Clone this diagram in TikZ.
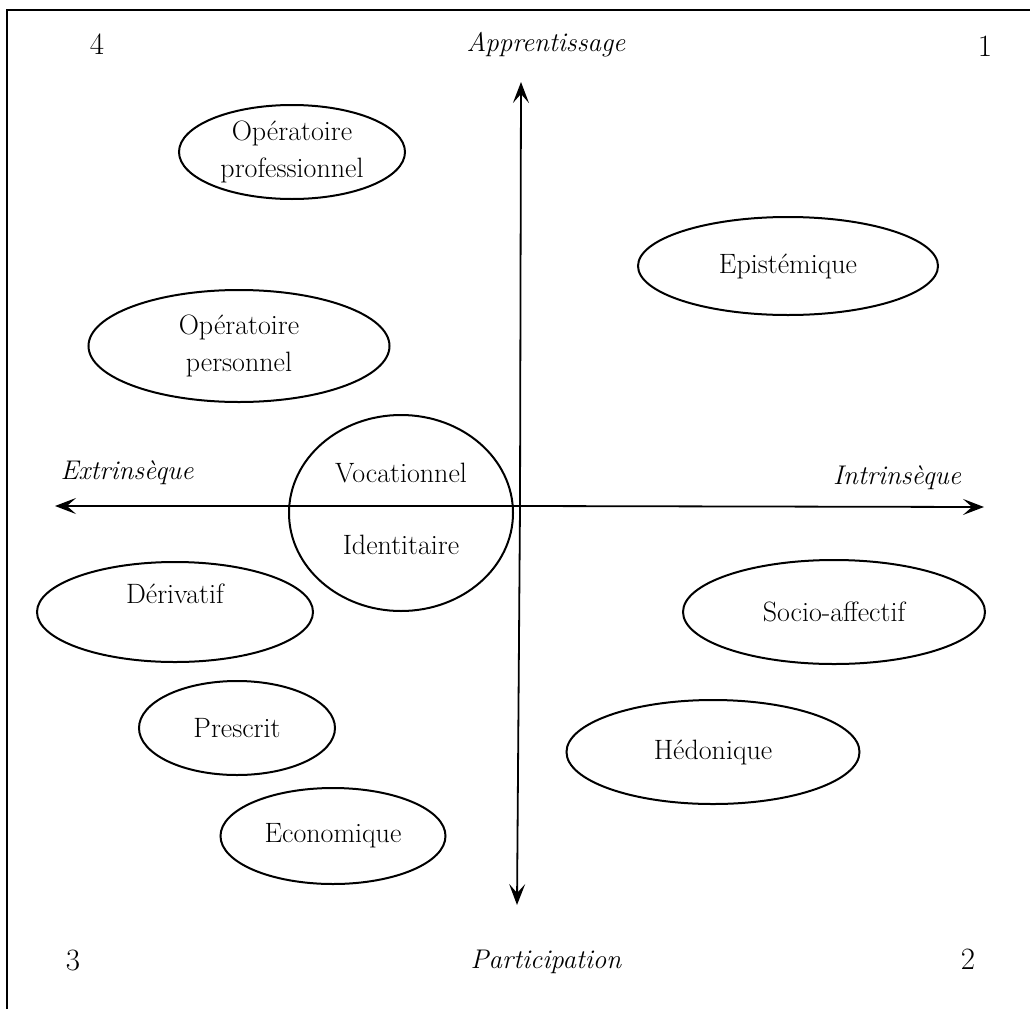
\documentclass[tikz,border=0pt]{standalone}
\usetikzlibrary{shapes.geometric,arrows.meta}
\begin{document}
\begin{tikzpicture}[x=1pt,y=-1pt,
  oval/.style={draw,ellipse,line width=2pt,inner sep=0pt,align=center,font=\fontsize{28}{37}\selectfont},
  lbl/.style={font=\fontsize{28}{30}\selectfont},
  num/.style={font=\fontsize{31}{34}\selectfont},
  axlbl/.style={font=\fontsize{27}{30}\selectfont\itshape},
  axis/.style={line width=1.8pt,-{Stealth[length=21pt,width=16pt,inset=9pt]}},
  frame/.style={line width=2.8pt}]
\useasboundingbox (0,0) rectangle (1030,1009);
% frame
\coordinate (fb) at (7,1009);
\coordinate (fc) at (7,10);
\coordinate (fr) at (1030,10);
\draw[frame] (fb) -- (fc) -- (fr);
% corner numbers and axis labels
\node[num] (n4) at (97,44) {4};
\node[num] (n1) at (985,46) {1};
\node[num] (n3) at (73,960) {3};
\node[num] (n2) at (968,959) {2};
\node[axlbl] (app) at (546,45) {Apprentissage};
\node[axlbl] (par) at (546,962) {Participation};
\node[axlbl] (ext) at (127,473) {Extrins\`eque};
\node[axlbl] (int) at (897,478) {Intrins\`eque};
% axes
\coordinate (o) at (520,506);
\coordinate (top) at (521,82);
\coordinate (bot) at (517,905);
\coordinate (left) at (55,506);
\coordinate (right) at (984,507);
\draw[axis] (o) -- (top);
\draw[axis] (o) -- (bot);
\draw[axis] (o) -- (left);
\draw[axis] (o) -- (right);
% ovals
\node[oval,minimum width=226pt,minimum height=94pt] (opro) at (292,152) {Op\'eratoire\\professionnel};
\node[oval,minimum width=300pt,minimum height=98pt] (epi) at (788,266) {Epist\'emique};
\node[oval,minimum width=301pt,minimum height=112pt] (oper) at (239,346) {Op\'eratoire\\personnel};
\node[oval,minimum width=224pt,minimum height=196pt] (voc) at (401,513) {};
\node[lbl] (vocA) at (401,473) {Vocationnel};
\node[lbl] (vocB) at (401,545) {Identitaire};
\node[oval,minimum width=276pt,minimum height=100pt] (der) at (175,612) {D\'erivatif\\[0pt]\phantom{x}};
\node[oval,minimum width=302pt,minimum height=104pt] (soc) at (834,612) {Socio-affectif};
\node[oval,minimum width=196pt,minimum height=94pt] (pre) at (237,728) {Prescrit};
\node[oval,minimum width=293pt,minimum height=104pt] (hed) at (713,752) {H\'edonique};
\node[oval,minimum width=225pt,minimum height=96pt] (eco) at (333,836) {Economique};
\end{tikzpicture}
\end{document}
